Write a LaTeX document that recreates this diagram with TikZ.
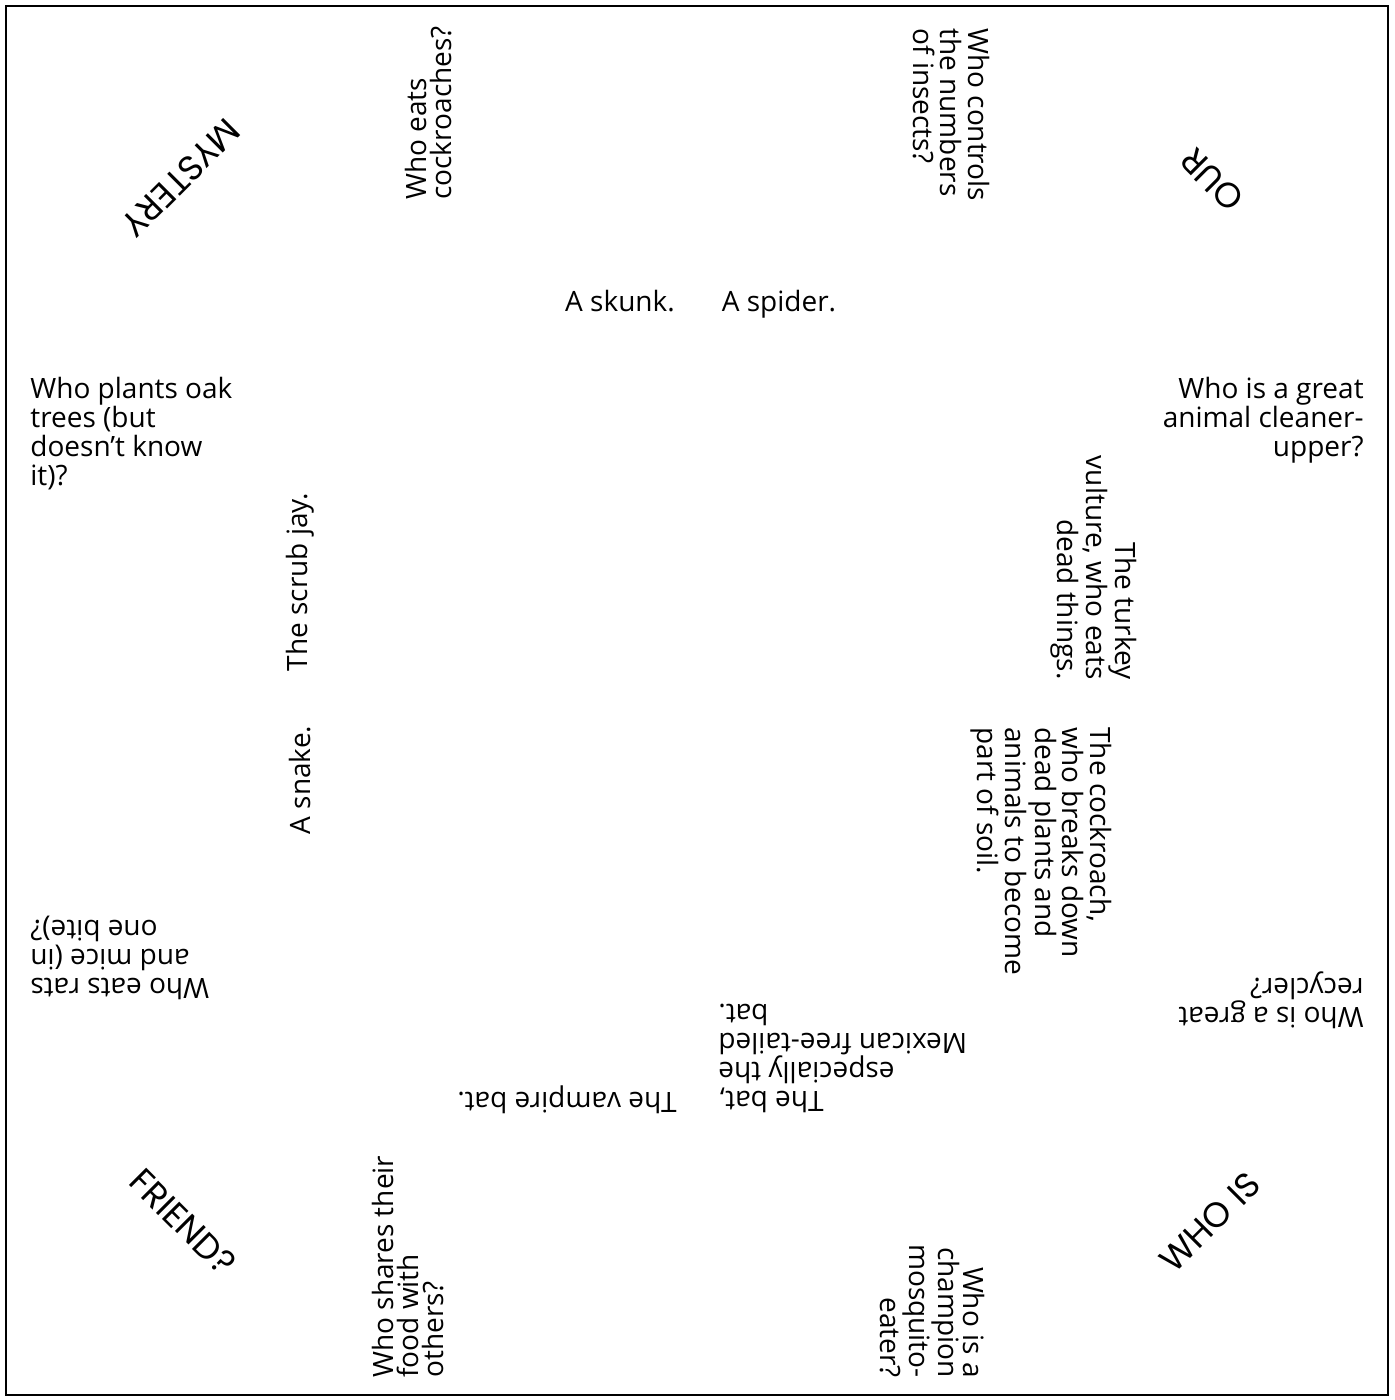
\documentclass[tikz,border=0pt]{standalone}
\usepackage{fontspec}
\setmainfont{Open Sans}
\newfontfamily\flapfont{Poppins}
\begin{document}
\begin{tikzpicture}[
    x=0.5pt, y=-0.5pt,
    every node/.style={inner sep=0pt, font=\fontsize{14}{14.5}\selectfont},
    tight/.style={font=\fontsize{14}{12.5}\selectfont},
    mid/.style={font=\fontsize{14}{13.8}\selectfont},
    flap/.style={font=\flapfont\fontsize{17.5}{17.5}\selectfont},
    rotup/.style={rotate=90},
    rotdown/.style={rotate=-90},
    rotflip/.style={rotate=180}
  ]
  \useasboundingbox (0,0) rectangle (1394,1400);
  \draw[line width=1pt] (6,6) rectangle (1388,1395);

  % corner flaps
  \node[flap, rotate=225] (w-mystery) at (181,178) {MYSTERY};
  \node[flap, rotate=135] (w-our) at (1212,180) {OUR};
  \node[flap, rotate=45] (w-whois) at (1210,1222) {WHO IS};
  \node[flap, rotate=-45] (w-friend) at (183,1222) {FRIEND?};

  % questions, upright side
  \node[align=left, anchor=north west] (q-oak) at (30,377)
    {Who plants oak\\trees (but\\doesn’t know\\it)?};
  \node[align=right, anchor=north east] (q-cleaner) at (1364,377)
    {Who is a great\\animal cleaner-\\upper?};
  \node[tight, rotup, align=left, anchor=north west] (q-roach) at (405,200)
    {Who eats\\cockroaches?};
  \node[mid, rotdown, align=left, anchor=north west] (q-insects) at (990,28)
    {Who controls\\the numbers\\of insects?};

  % questions, lower side
  \node[rotflip, align=right, anchor=north east] (q-rats) at (30,1000)
    {Who eats rats\\and mice (in\\one bite)?};
  \node[rotflip, align=left, anchor=north west] (q-recycler) at (1364,1029)
    {Who is a great\\recycler?};
  \node[tight, rotup, align=left, anchor=north west] (q-share) at (372,1378)
    {Who shares their\\food with\\others?};
  \node[tight, rotdown, align=right, anchor=north east] (q-mosquito) at (985,1378)
    {Who is a\\champion\\mosquito-\\eater?};

  % answers
  \node[anchor=base] (a-skunk) at (620,312) {A skunk.};
  \node[anchor=base] (a-spider) at (779,312) {A spider.};
  \node[rotup] (a-jay) at (300,582) {The scrub jay.};
  \node[rotup] (a-snake) at (300,780) {A snake.};
  \node[rotdown, align=right, anchor=north east] (a-vulture) at (1137,680)
    {The turkey\\vulture, who eats\\dead things.};
  \node[mid, rotdown, align=left, anchor=north west] (a-cockroach) at (1112,727)
    {The cockroach,\\who breaks down\\dead plants and\\animals to become\\part of soil.};
  \node[rotflip, align=right, anchor=north east] (a-bat) at (718,1113)
    {The bat,\\especially the\\Mexican free-tailed\\bat.};
  \node[rotflip] (a-vampire) at (567,1100) {The vampire bat.};
\end{tikzpicture}
\end{document}
